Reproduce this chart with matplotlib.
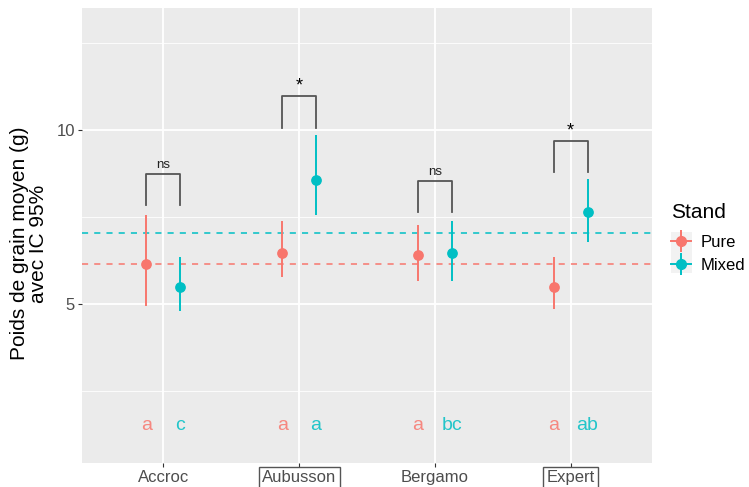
import matplotlib.pyplot as plt
import numpy as np
from matplotlib.lines import Line2D
from matplotlib.patches import Rectangle
from matplotlib.legend_handler import HandlerTuple

plt.rcParams['font.family'] = ['Liberation Sans', 'DejaVu Sans']

varieties = ['Accroc', 'Aubusson', 'Bergamo', 'Expert']
stands = ['Pure', 'Mixed']

# moyennes et IC 95%
pure_mean = [6.14, 6.47, 6.41, 5.49]
pure_low = [4.95, 5.77, 5.67, 4.85]
pure_high = [7.56, 7.38, 7.27, 6.36]
mixed_mean = [5.49, 8.57, 6.47, 7.65]
mixed_low = [4.80, 7.56, 5.67, 6.79]
mixed_high = [6.35, 9.84, 7.39, 8.59]

# moyennes globales (lignes pointillees)
pure_overall = 6.14
mixed_overall = 7.05

# crochets de comparaison
bracket_top = [8.74, 10.96, 8.53, 9.67]
bracket_leg = [7.84, 10.05, 7.64, 8.78]
signif = ['ns', '*', 'ns', '*']

# lettres des groupes
pure_letters = ['a', 'a', 'a', 'a']
mixed_letters = ['c', 'a', 'bc', 'ab']
letter_y = 1.5

col_pure = '#F8766D'
col_mixed = '#00BFC4'
dodge = 0.125

fig = plt.figure(figsize=(7.49, 4.87), dpi=100)
ax = fig.add_axes([82 / 749, 24 / 487, 570 / 749, 455 / 487])
ax.set_facecolor('#EBEBEB')
for s in ax.spines.values():
    s.set_visible(False)

x = np.arange(1, len(varieties) + 1)

ax.set_xlim(0.4, 4.6)
ax.set_ylim(0.43, 13.5)
ax.set_xticks(x)
ax.set_xticklabels(varieties)
ax.set_yticks([5, 10])
ax.set_yticks([2.5, 7.5, 12.5], minor=True)
ax.grid(which='major', color='white', linewidth=1.3)
ax.grid(which='minor', axis='y', color='white', linewidth=0.6)
ax.set_axisbelow(True)
ax.tick_params(which='major', length=3, width=0.8, color='#333333',
               labelcolor='#4D4D4D', labelsize=12, pad=2)
ax.tick_params(which='minor', length=0)

ax.axhline(pure_overall, color=col_pure, linestyle=(0, (4, 4)), linewidth=1.1, zorder=2)
ax.axhline(mixed_overall, color=col_mixed, linestyle=(0, (4, 4)), linewidth=1.1, zorder=2)

xp = x - dodge
xm = x + dodge
ax.vlines(xp, pure_low, pure_high, color=col_pure, linewidth=1.4, zorder=3)
ax.scatter(xp, pure_mean, color=col_pure, s=45, zorder=4)
ax.vlines(xm, mixed_low, mixed_high, color=col_mixed, linewidth=1.4, zorder=3)
ax.scatter(xm, mixed_mean, color=col_mixed, s=45, zorder=4)

for i in range(len(varieties)):
    ax.plot([xp[i], xp[i], xm[i], xm[i]],
            [bracket_leg[i], bracket_top[i], bracket_top[i], bracket_leg[i]],
            color='#555555', linewidth=1.3, zorder=3)
    if signif[i] == '*':
        ax.text(x[i], bracket_top[i] + 0.05, '*', ha='center', va='bottom',
                fontsize=13, color='black')
    else:
        ax.text(x[i], bracket_top[i] + 0.08, signif[i], ha='center', va='bottom',
                fontsize=9.5, color='#222222')
    ax.text(xp[i], letter_y, pure_letters[i], ha='center', va='center',
            fontsize=14, color=col_pure, alpha=0.85)
    ax.text(xm[i], letter_y, mixed_letters[i], ha='center', va='center',
            fontsize=14, color=col_mixed, alpha=0.85)

# encadrer les varietes avec difference significative
for lab, s in zip(ax.get_xticklabels(), signif):
    if s == '*':
        lab.set_bbox(dict(boxstyle='square,pad=0.2', facecolor='none',
                          edgecolor='#555555', linewidth=1))

fig.text(29 / 749, 0.5, 'Poids de grain moyen (g)\navec IC 95%', rotation=90,
         ha='center', va='center', fontsize=15, multialignment='center',
         linespacing=1.0)

# legende
fig.text(671 / 749, 1 - 212 / 487, 'Stand', ha='left', va='center', fontsize=15)
fig.patches.append(Rectangle((671 / 749, 1 - 273 / 487), 21 / 749, 41 / 487,
                             transform=fig.transFigure, facecolor='#F2F2F2',
                             edgecolor='none', zorder=0))
handles = []
for c in [col_pure, col_mixed]:
    h1 = Line2D([], [], color=c, marker='o', markersize=7, linewidth=1.4)
    h2 = Line2D([], [], color=c, marker='|', markersize=16, markeredgewidth=1.4,
                linestyle='none')
    handles.append((h1, h2))
leg = fig.legend(handles, stands, loc='upper left',
                 bbox_to_anchor=(671 / 749, 1 - 235 / 487), frameon=False,
                 fontsize=12, handlelength=1.2,
                 handletextpad=0.6, labelspacing=0.46, borderpad=0,
                 borderaxespad=0,
                 handler_map={tuple: HandlerTuple(ndivide=1)})

fig.savefig('out.png', dpi=100)
